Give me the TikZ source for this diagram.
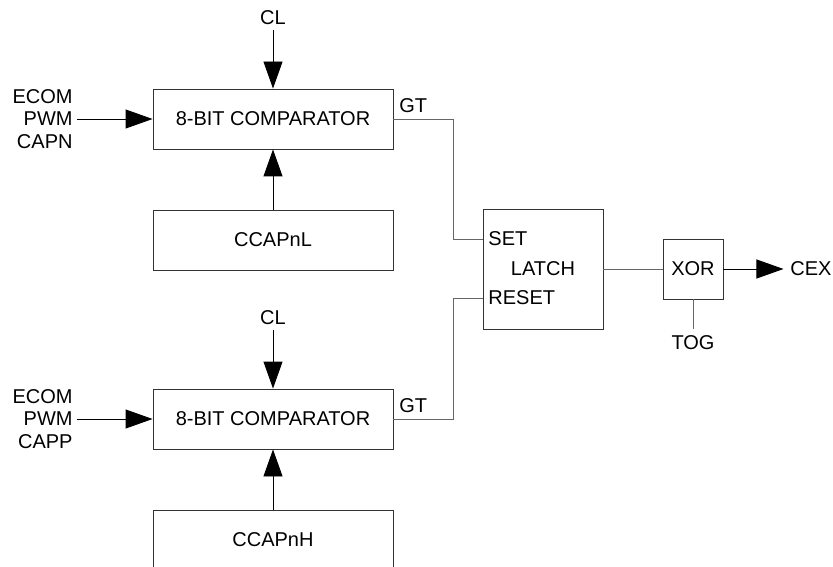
\documentclass[tikz,border=0pt]{standalone}
\usepackage{fontspec}
\setmainfont{Liberation Sans}
\usetikzlibrary{arrows.meta}
\begin{document}
\begin{tikzpicture}[x=1pt, y=-1pt, line width=0.9pt,
    >={Triangle[length=27pt,width=19pt]},
    every node/.style={font=\fontsize{20}{22.5}\selectfont},
    blk/.style={draw=black!80, minimum width=240pt, minimum height=60pt, inner sep=0pt},
    wire/.style={draw=black!60},
    sig/.style={inner sep=4pt}]
  \useasboundingbox (0,0) rectangle (833,567);
  \clip (0,0) rectangle (833,567);
  % upper comparator
  \node[blk] (cmpN) at (273,119) {8-BIT COMPARATOR};
  \node[blk] (capL) at (273,240) {CCAPnL};
  \node[sig] (clN) at (273,18) {CL};
  \node[sig, align=right, anchor=east] (modeN) at (77,119) {ECOM\\PWM\\CAPN};
  \node[anchor=south west, inner sep=5.5pt] (gtN) at (cmpN.east) {GT};
  \draw[->] (clN.south) -- (cmpN.north);
  \draw[->] (modeN.east) -- (cmpN.west);
  \draw[->] (capL.north) -- (cmpN.south);
  % lower comparator
  \node[blk] (cmpP) at (273,419) {8-BIT COMPARATOR};
  \node[blk] (capH) at (273,540) {CCAPnH};
  \node[sig] (clP) at (273,318) {CL};
  \node[sig, align=right, anchor=east] (modeP) at (77,419) {ECOM\\PWM\\CAPP};
  \node[anchor=south west, inner sep=5.5pt] (gtP) at (cmpP.east) {GT};
  \draw[->] (clP.south) -- (cmpP.north);
  \draw[->] (modeP.east) -- (cmpP.west);
  \draw[->] (capH.north) -- (cmpP.south);
  % latch and output
  \node[draw=black!80, minimum size=120pt, inner sep=0pt] (latch) at (543,269) {LATCH};
  \node[anchor=west, inner sep=5pt] (set) at (483,239) {SET};
  \node[anchor=west, inner sep=5pt] (reset) at (483,298) {RESET};
  \node[draw=black!80, minimum size=60pt, inner sep=0pt] (xor) at (693,269) {XOR};
  \node[inner sep=6pt] (tog) at (693,343) {TOG};
  \node[inner sep=6.5pt] (cex) at (811,269) {CEX};
  \draw[wire] (cmpN.east) -- ++(60,0) |- (set.west);
  \draw[wire] (cmpP.east) -- ++(60,0) |- (reset.west);
  \draw[wire] (latch) -- (xor);
  \draw[wire] (xor) -- (tog);
  \draw[->] (xor) -- (cex);
\end{tikzpicture}
\end{document}
